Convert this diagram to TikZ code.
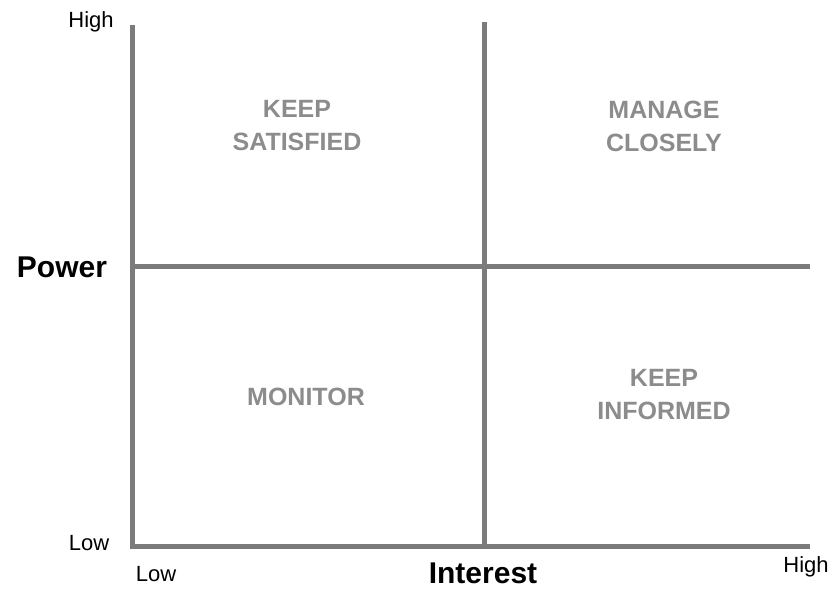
\documentclass[tikz,border=0pt]{standalone}
\usepackage{fontspec}
\setmainfont{Liberation Sans}
\definecolor{axisgray}{HTML}{7B7B7B}
\definecolor{quadgray}{HTML}{8C8C8C}

\begin{document}
\begin{tikzpicture}[x=1pt,y=-1pt,
  axis line/.style={draw=axisgray,line width=5pt},
  quad node/.style={align=center,text=quadgray,font=\fontsize{25}{33}\selectfont\bfseries},
  tick node/.style={inner sep=1pt,font=\fontsize{22}{26}\selectfont},
  title node/.style={inner sep=1pt,font=\fontsize{30}{34}\selectfont\bfseries}]

  \useasboundingbox (0,0) rectangle (835,590);

  % grid corners
  \coordinate (top) at (132,25);
  \coordinate (origin) at (132,546);
  \coordinate (right) at (810,546);
  \coordinate (midtop) at (484,22);
  \coordinate (midbottom) at (484,546);
  \coordinate (midleft) at (132,266);
  \coordinate (midright) at (810,266);

  \draw[axis line] (top) -- (origin) -- (right);
  \draw[axis line] (midtop) -- (midbottom);
  \draw[axis line] (midleft) -- (midright);

  % quadrants
  \node[quad node] (satisfied) at (297,126) {KEEP\\SATISFIED};
  \node[quad node] (manage) at (664,126) {MANAGE\\CLOSELY};
  \node[quad node] (monitor) at (306,397) {MONITOR};
  \node[quad node] (informed) at (664,395) {KEEP\\INFORMED};

  % axes labels
  \node[tick node] (powhigh) at (91,22) {High};
  \node[tick node] (powlow) at (89,543) {Low};
  \node[tick node] (intlow) at (156,574) {Low};
  \node[tick node] (inthigh) at (806,567) {High};
  \node[title node] (power) at (62,267) {Power};
  \node[title node] (interest) at (483,573) {Interest};
\end{tikzpicture}
\end{document}
